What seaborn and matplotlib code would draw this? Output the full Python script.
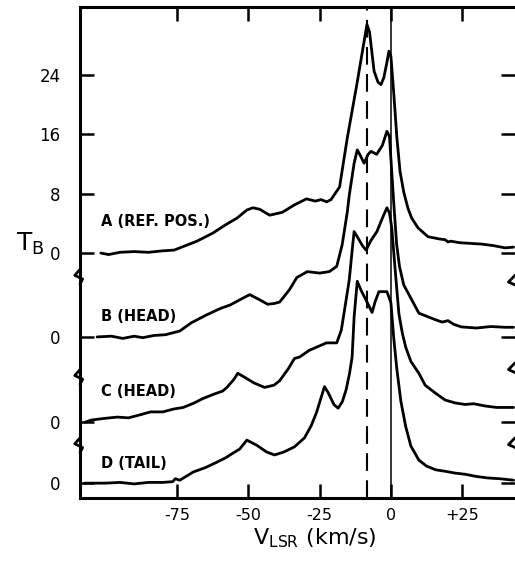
import numpy as np
import pandas as pd
import matplotlib
matplotlib.use("Agg")
import matplotlib.pyplot as plt
import seaborn as sns

# spectra: velocity (km/s) and brightness temperature (K)
v_a = [-101.7, -99, -95, -90, -85, -80, -76, -74, -68, -62.4, -58, -54, -50.5, -48.4, -46,
       -42.5, -38, -33.8, -29.6, -26.5, -24.5, -22.5, -21, -18, -15.3, -12, -8.4, -7.5, -5.9,
       -4.5, -3.5, -2.5, -1.5, -0.7, 0, 1, 2.1, 3.2, 4.5, 6, 7.3, 9.5, 13, 17, 19, 20, 21,
       24, 28, 32, 36, 40, 43]
tb_a = [0.0, -0.2, 0.1, 0.2, 0.1, 0.3, 0.4, 0.7, 1.6, 2.7, 3.8, 4.7, 5.8, 6.1, 5.9,
        5.1, 5.5, 6.5, 7.3, 7.0, 7.2, 6.9, 7.2, 8.9, 15.5, 22.6, 30.8, 29.8, 24.5,
        23.0, 22.7, 23.6, 25.5, 27.2, 26.5, 21.5, 15.5, 11.0, 8.2, 6.0, 4.7, 3.4, 2.2, 1.9, 1.8, 1.5, 1.6,
        1.4, 1.3, 1.2, 1.0, 0.7, 0.8]

v_b = [-103, -98, -94, -90, -87, -83, -79, -74, -70, -65, -60, -56.4, -52, -49.5, -46,
       -43.2, -41, -39, -35.5, -33, -29.3, -25, -21.6, -19, -17.1, -15.3, -14.6, -12.9, -11.8,
       -10.8, -9.4, -8, -7, -5, -3, -1.4, -0.5, 0, 1, 2, 3, 4.5, 7.3, 9.8, 15.7, 18, 20,
       22, 24.7, 30, 35, 40, 43]
tb_b = [0.0, 0.1, -0.2, 0.1, -0.1, 0.2, 0.3, 0.8, 1.9, 2.9, 3.8, 4.3, 5.2, 5.7, 5.0,
        4.4, 4.5, 4.7, 6.4, 8.0, 8.8, 8.6, 8.8, 9.5, 12.4, 16.8, 19.1, 23.4, 25.2,
        24.5, 23.4, 24.6, 25.0, 24.6, 25.8, 27.7, 27.0, 24.0, 18.0, 12.5, 9.5, 7.0, 5.0, 3.2, 2.3, 2.0, 2.2,
        1.7, 1.35, 1.2, 1.4, 1.3, 1.3]

v_c = [-107.3, -105, -101, -96, -92, -88, -84.3, -80, -76, -72.8, -69, -65.9, -62, -59, -57.5,
       -55, -53.7, -51, -48, -44.3, -41, -39, -36, -33.8, -32, -28.6, -25, -22.6, -19, -17.4,
       -15.7, -14.6, -13.5, -12.9, -11.8, -10, -8.7, -7, -4.9, -3, -1.4, -0.5, 0.3, 1.5, 2.8,
       4, 5.2, 7, 9.8, 12, 15.7, 19, 22.6, 26, 29, 33, 37, 43]
tb_c = [0.0, 0.3, 0.5, 0.7, 0.6, 1.0, 1.4, 1.4, 1.8, 2.0, 2.6, 3.2, 3.8, 4.2, 4.7,
        5.8, 6.6, 6.0, 5.3, 4.7, 5.0, 5.6, 7.2, 8.6, 8.8, 9.7, 10.3, 10.7, 10.7, 12.4,
        16.5, 19.2, 23.5, 25.7, 25.0, 23.8, 23.2, 24.5, 25.7, 27.5, 28.9, 28.2, 26.2, 20.5, 14.6,
        12.0, 10.1, 8.2, 6.6, 5.0, 3.9, 3.0, 2.6, 2.4, 2.5, 2.2, 2.0, 2.0]

v_d = [-107.3, -100, -95, -90, -85, -80, -76.5, -75.6, -74, -69.3, -65, -61.7, -58, -56.4, -53,
       -50.5, -48.5, -47, -43.6, -40.8, -37.5, -33.8, -30.3, -28, -26.1, -24.5, -23.3, -22, -20,
       -18.5, -17, -15.7, -14.5, -13.6, -12.9, -11.8, -10.5, -8.5, -6.6, -5.5, -4.2, -1.4, 0, 1,
       2.1, 3.5, 5.2, 7, 9.8, 12.5, 15.7, 19, 22.6, 26, 30, 34, 38, 43]
tb_d = [0.0, 0.0, 0.1, -0.1, 0.1, 0.1, 0.2, 0.6, 0.4, 1.5, 2.1, 2.7, 3.4, 3.8, 4.6,
        5.8, 5.4, 5.1, 4.2, 3.8, 4.2, 4.9, 6.1, 7.7, 9.5, 11.5, 13.0, 12.2, 10.6,
        10.1, 11.0, 12.6, 14.8, 17.0, 22.4, 27.2, 26.0, 24.5, 23.0, 24.5, 25.8, 25.8, 24.3, 19.5,
        15.3, 11.0, 7.6, 5.0, 3.1, 2.3, 1.8, 1.6, 1.35, 1.2, 0.9, 0.7, 0.6, 0.4]

names = ["A", "B", "C", "D"]
labels = ["A (REF. POS.)", "B (HEAD)", "C (HEAD)", "D (TAIL)"]
offsets = [0, -11.3, -22.8, -31.0]
label_dy = [4.2, 2.8, 4.2, 2.6]
v_sets = [v_a, v_b, v_c, v_d]
tb_sets = [tb_a, tb_b, tb_c, tb_d]

v_ticks = [-75, -50, -25, 0, 25]
v_ticklabels = ["-75", "-50", "-25", "0", "+25"]
tb_ticks = [0, 8, 16, 24]
v_dashed = -8.5

frames = []
for name, v, tb, off in zip(names, v_sets, tb_sets, offsets):
    frames.append(pd.DataFrame({"v": v, "tb": np.array(tb) + off, "pos": name}))
df = pd.concat(frames, ignore_index=True)

sns.set_style("ticks")
plt.rcParams["font.family"] = ["DejaVu Sans"]
plt.rcParams["mathtext.fontset"] = "dejavusans"
for k in ["text.color", "axes.labelcolor", "xtick.color", "ytick.color", "axes.edgecolor"]:
    plt.rcParams[k] = "black"

fig = plt.figure(figsize=(5.15, 5.63), dpi=100)
ax = fig.add_axes([80 / 515, 65 / 563, 435 / 515, 491 / 563])

sns.lineplot(data=df, x="v", y="tb", units="pos", estimator=None, sort=False,
             color="black", lw=2.0, ax=ax, legend=False)

ax.axvline(0, color="black", lw=1.1)
ax.axvline(v_dashed, color="black", lw=1.5, ls=(0, (8.5, 4.5)))

for lab, off, dy in zip(labels, offsets, label_dy):
    ax.text(-101.7, off + dy, lab, fontsize=10.5, fontweight="bold",
            ha="left", va="center")

ax.set_xlim(-109, 43.5)
ax.set_ylim(-33.0, 33.15)

ax.set_xticks(v_ticks)
ax.set_xticklabels(v_ticklabels, fontsize=11.5)
ax.set_yticks(tb_ticks + offsets[1:])
ax.set_yticklabels([str(t) for t in tb_ticks] + ["0"] * 3, fontsize=12)

for s in ["left", "bottom", "top"]:
    ax.spines[s].set_linewidth(2.2)
ax.spines["right"].set_visible(False)
ax.tick_params(axis="both", direction="in", length=10, width=1.8, top=True, right=True,
               labeltop=False, labelright=False)
ax.tick_params(axis="y", pad=14)
ax.tick_params(axis="x", pad=7)

# axis break marks
tr_l = ax.get_yaxis_transform()
for yb in [-3.2, -16.7, -25.9]:
    ax.plot([0, 0], [yb - 1.0, yb + 1.0], color="white", lw=4, transform=tr_l, clip_on=False)
    ax.plot([0, -0.012, 0.006, 0], [yb + 1.0, yb + 0.2, yb - 0.3, yb - 1.0],
            color="black", lw=2, transform=tr_l, clip_on=False)
for yb in [-4.0, -15.8, -25.9]:
    ax.plot([1.0, 0.985, 1.004], [yb + 1.0, yb + 0.1, yb - 0.4],
            color="black", lw=2, transform=tr_l, clip_on=False)

ax.set_ylabel(r"$\mathrm{T_B}$", fontsize=18, rotation=0)
ax.yaxis.set_label_coords(-0.115, 0.49)
ax.set_xlabel(r"$\mathrm{V_{LSR}}$" + " (km/s)", fontsize=16)
ax.xaxis.set_label_coords(0.54, -0.058)

fig.savefig("out.png", dpi=100)
